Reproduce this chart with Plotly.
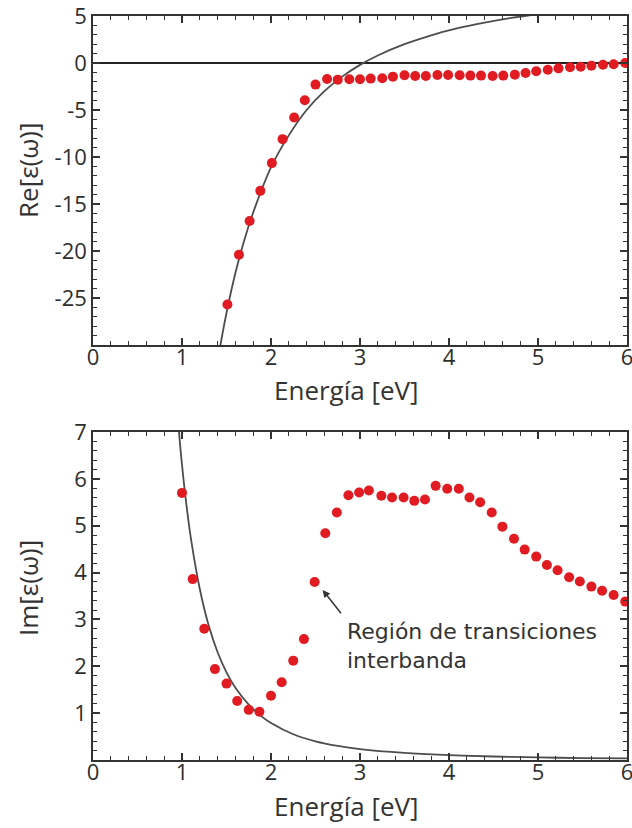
import plotly.graph_objects as go

# Measured dielectric function (points) and Drude model (line)
energy_re = [1.51, 1.64, 1.76, 1.88, 2.01, 2.13, 2.26, 2.38, 2.50, 2.63, 2.75, 2.88,
             3.00, 3.12, 3.25, 3.37, 3.50, 3.62, 3.74, 3.87, 3.99, 4.12, 4.24, 4.36,
             4.49, 4.61, 4.74, 4.86, 4.98, 5.11, 5.23, 5.36, 5.48, 5.60, 5.73, 5.85, 5.98]
eps_re = [-25.7, -20.4, -16.8, -13.6, -10.65, -8.1, -5.8, -3.96, -2.3, -1.7, -1.77, -1.73,
          -1.73, -1.66, -1.63, -1.45, -1.3, -1.38, -1.38, -1.27, -1.27, -1.3, -1.34, -1.34,
          -1.38, -1.34, -1.24, -1.06, -0.88, -0.71, -0.57, -0.46, -0.39, -0.28, -0.18, -0.14, 0.0]

energy_im = [1.00, 1.12, 1.25, 1.37, 1.50, 1.62, 1.75, 1.87, 2.00, 2.12, 2.25, 2.37, 2.49,
             2.61, 2.74, 2.87, 2.99, 3.10, 3.24, 3.36, 3.49, 3.61, 3.73, 3.85, 3.98, 4.11,
             4.23, 4.35, 4.48, 4.60, 4.73, 4.85, 4.98, 5.10, 5.22, 5.35, 5.47, 5.60, 5.72,
             5.85, 5.98]
eps_im = [5.70, 3.86, 2.80, 1.94, 1.63, 1.26, 1.07, 1.03, 1.37, 1.66, 2.12, 2.58, 3.80,
          4.84, 5.28, 5.65, 5.71, 5.75, 5.64, 5.60, 5.60, 5.53, 5.56, 5.85, 5.79, 5.79,
          5.60, 5.50, 5.28, 4.98, 4.72, 4.49, 4.34, 4.16, 4.05, 3.90, 3.81, 3.70, 3.61,
          3.52, 3.38]

drude_re_x = [1.40, 1.43, 1.50, 1.60, 1.70, 1.80, 2.00, 2.20, 2.40, 2.60, 2.80, 3.00,
              3.20, 3.50, 3.80, 4.10, 4.40, 4.70, 4.85, 5.00]
drude_re_y = [-31.8, -30.1, -26.6, -22.35, -18.85, -15.9, -11.1, -7.7, -5.0, -3.0, -1.45,
              -0.2, 0.8, 2.0, 2.95, 3.7, 4.3, 4.8, 5.0, 5.2]

drude_im_x = [0.95, 0.966, 1.0, 1.05, 1.1, 1.2, 1.3, 1.4, 1.5, 1.6, 1.75, 1.9, 2.0, 2.25,
              2.5, 2.75, 3.0, 3.5, 4.0, 4.5, 5.0, 5.5, 6.0]
drude_im_y = [7.35, 7.0, 6.3, 5.44, 4.73, 3.65, 2.87, 2.30, 1.87, 1.54, 1.18, 0.92, 0.79,
              0.55, 0.40, 0.30, 0.23, 0.15, 0.105, 0.075, 0.055, 0.042, 0.034]

re_ticks = [-25, -20, -15, -10, -5, 0, 5]
re_labels = ["-25", "-20", "-15", "-10", "-5", "0", "5"]
im_ticks = [1, 2, 3, 4, 5, 6, 7]
im_labels = ["1", "2", "3", "4", "5", "6", "7"]
x_ticks = [0, 1, 2, 3, 4, 5, 6]
x_labels = ["0", "1", "2", "3", "4", "5", "6"]

RED = "#e11b22"
LINE = "#4d4d4d"
AX = "#333333"
TICKFONT = dict(family="Open Sans", size=22, color="#2e2e2e")
TITLEFONT = dict(family="Open Sans", size=26, color="#333333")

fig = go.Figure()
fig.add_trace(go.Scatter(x=drude_re_x, y=drude_re_y, mode="lines", line=dict(color=LINE, width=1.8, shape="spline"),
                         xaxis="x", yaxis="y", showlegend=False))
fig.add_trace(go.Scatter(x=energy_re, y=eps_re, mode="markers", marker=dict(color=RED, size=10, symbol="circle"),
                         xaxis="x", yaxis="y", showlegend=False))
fig.add_trace(go.Scatter(x=drude_im_x, y=drude_im_y, mode="lines", line=dict(color=LINE, width=1.8, shape="spline"),
                         xaxis="x2", yaxis="y2", showlegend=False))
fig.add_trace(go.Scatter(x=energy_im, y=eps_im, mode="markers", marker=dict(color=RED, size=10, symbol="circle"),
                         xaxis="x2", yaxis="y2", showlegend=False))


def minor(step):
    return dict(ticks="inside", ticklen=4, tickwidth=1.3, tickcolor=AX,
                tickmode="linear", tick0=0, dtick=step, showgrid=False)


def axis_style(**kw):
    base = dict(showline=True, linecolor=AX, linewidth=1.5, mirror="allticks",
                ticks="inside", ticklen=7, tickwidth=1.5, tickcolor=AX, tickmode="array",
                showgrid=False, tickfont=TICKFONT, zeroline=False, layer="above traces",
                automargin=False, ticklabeloverflow="allow")
    base.update(kw)
    return base


fig.update_layout(
    width=632, height=828,
    margin=dict(l=93, r=5, t=16, b=68),
    paper_bgcolor="white", plot_bgcolor="white",
    xaxis=axis_style(domain=[0, 1], range=[0, 6], tickvals=x_ticks, ticktext=x_labels,
                     anchor="y", ticklabelstandoff=-8, minor=minor(0.2)),
    yaxis=axis_style(domain=[0.5578, 1], range=[-30, 5], tickvals=re_ticks, ticktext=re_labels,
                     anchor="x", zeroline=True, zerolinecolor="#222222", zerolinewidth=1.5,
                     minor=minor(1)),
    xaxis2=axis_style(domain=[0, 1], range=[0, 6], tickvals=x_ticks, ticktext=x_labels,
                      anchor="y2", ticklabelstandoff=-8, minor=minor(0.2)),
    yaxis2=axis_style(domain=[0, 0.4409], range=[0, 7], tickvals=im_ticks, ticktext=im_labels,
                      anchor="x2", minor=minor(0.2)),
)

annotations = [
    dict(text="Energía [eV]", xref="paper", yref="paper", x=0.474, y=0.4978,
         xanchor="center", yanchor="middle", showarrow=False, font=TITLEFONT),
    dict(text="Energía [eV]", xref="paper", yref="paper", x=0.474, y=-0.0618,
         xanchor="center", yanchor="middle", showarrow=False, font=TITLEFONT),
    dict(text="Re[ε(ω)]", xref="paper", yref="paper", x=-0.1217, y=0.793,
         xanchor="center", yanchor="middle", textangle=-90, showarrow=False, font=TITLEFONT),
    dict(text="Im[ε(ω)]", xref="paper", yref="paper", x=-0.1217, y=0.2312,
         xanchor="center", yanchor="middle", textangle=-90, showarrow=False, font=TITLEFONT),
    # arrow pointing at the onset of interband absorption
    dict(text="", xref="x2", yref="y2", x=2.58, y=3.63, axref="x2", ayref="y2", ax=2.80, ay=3.10,
         showarrow=True, arrowhead=2, arrowsize=1, arrowwidth=1.5, arrowcolor="#333333", standoff=0),
    dict(text="Región de transiciones<br>interbanda", xref="x2", yref="y2", x=2.83, y=2.43,
         xanchor="left", yanchor="middle", align="left", showarrow=False,
         font=dict(family="DejaVu Sans", size=22, color="#333333")),
]
fig.update_layout(annotations=annotations)

fig.write_html("out.html")
